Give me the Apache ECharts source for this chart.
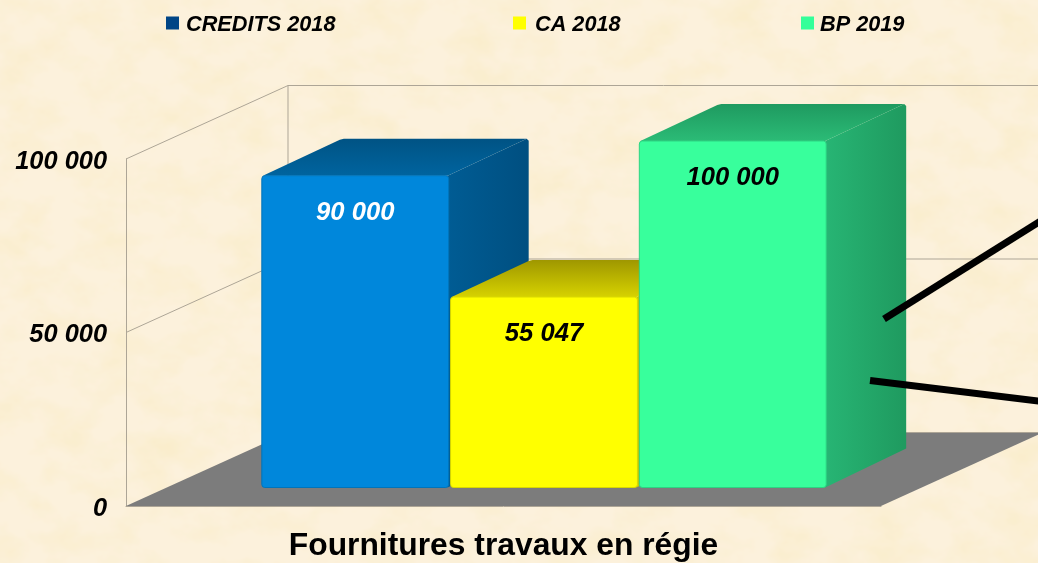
<!DOCTYPE html>
<html><head><meta charset="utf-8">
<style>
html,body{margin:0;padding:0;width:1038px;height:563px;overflow:hidden;background:#fcf1dc}
#tex{position:absolute;left:0;top:0;width:1038px;height:563px}
#chart{position:absolute;left:0;top:0;width:1038px;height:563px}
</style>
<script src="https://cdn.jsdelivr.net/npm/echarts@6/dist/echarts.min.js"></script>
</head><body>
<svg id="tex" xmlns="http://www.w3.org/2000/svg">
<filter id="p" x="0" y="0" width="100%" height="100%">
<feTurbulence type="fractalNoise" baseFrequency="0.022 0.03" numOctaves="4" seed="7"/>
<feColorMatrix type="matrix" values="0 0 0 0 0.95  0 0 0 0 0.84  0 0 0 0 0.58  1.6 0 0 0 -0.62"/>
</filter>
<rect width="1038" height="563" filter="url(#p)"/>
</svg>
<div id="chart"></div>
<script>
const categories = ['Fournitures travaux en régie'];
const seriesNames = ['CREDITS 2018', 'CA 2018', 'BP 2019'];
const credits2018 = [90000];
const ca2018 = [55047];
const bp2019 = [100000];
const valueTicks = [0, 50000, 100000];

const FONT = '"Liberation Sans", Arial, sans-serif';
const DEPTH_X = 81, DEPTH_Y = 37;
const WALL_X = 162, WALL_Y = 73.5;
const WALL = '#ada596';

const looks = [
  {legend:'#004586', front:'#0087db', edge:'#0074ba', label:'#ffffff',
   sideA:'#005c94', sideB:'#004f80', topA:'#005384', topB:'#00649f'},
  {legend:'#ffff00', front:'#ffff00', edge:'#d8d800', label:'#000000',
   sideA:'#c8c800', sideB:'#a8a000', topA:'#9f9700', topB:'#d6d200'},
  {legend:'#33ff99', front:'#38ff9c', edge:'#2cd482', label:'#000000',
   sideA:'#27b574', sideB:'#1f9a5f', topA:'#1f9a60', topB:'#2bbb76'}
];

function fmt(v){ return String(v).replace(/\B(?=(\d{3})+(?!\d))/g, ' '); }

function barRenderer(idx){
  return function(params, api){
    const v = api.value(1);
    const base = api.coord([api.value(0), 0]);
    const top = api.coord([api.value(0), v]);
    const band = api.size([1, 0])[0];
    const w = band * 0.2475;
    const cx = base[0] + DEPTH_X/2 + (idx-1) * band * 0.25;
    const x0 = cx - w/2, x1 = cx + w/2;
    const yb = base[1] - 18.5, yt = top[1] - 18;
    const L = looks[idx];
    const bx = x1 - 1 + DEPTH_X, by = yt - DEPTH_Y;
    return {type:'group', children:[
      {type:'polygon', shape:{points:[[x1-1,yt],[bx-2,by],[bx,by+2],[bx,yb-DEPTH_Y-2],[x1-1,yb]]},
       style:{fill:{type:'linear',x:0,y:0,x2:1,y2:0,colorStops:[{offset:0,color:L.sideA},{offset:1,color:L.sideB}]}}},
      {type:'polygon', shape:{points:[[x0+1,yt],[x0+1+DEPTH_X-4,by+1],[x0+1+DEPTH_X,by],[bx-2,by],[x1-1,yt]]},
       style:{fill:{type:'linear',x:0,y:0,x2:0,y2:1,colorStops:[{offset:0,color:L.topA},{offset:1,color:L.topB}]}}},
      {type:'rect', shape:{x:x0,y:yt,width:w,height:yb-yt,r:3},
       style:{fill:L.front,stroke:L.edge,lineWidth:1}},
      {type:'text', style:{x:cx,y:yt+37,text:fmt(v),align:'center',verticalAlign:'middle',
        fill:L.label,font:'italic bold 25.6px '+FONT}}
    ]};
  };
}

function wallRenderer(params, api){
  const v = api.value(1);
  const p = api.coord([0, v]);
  const band = api.size([1, 0])[0];
  const left = p[0] - band/2, right = p[0] + band/2;
  const line = (a,b,c,d)=>({type:'line',shape:{x1:a,y1:b,x2:c,y2:d},style:{stroke:WALL,lineWidth:1}});
  const kids = [];
  if (v === 0) {
    const topY = api.coord([0, valueTicks[valueTicks.length-1]])[1];
    kids.push({type:'polygon',shape:{points:[[left,p[1]],[right,p[1]],[right+WALL_X,p[1]-WALL_Y],[left+WALL_X,p[1]-WALL_Y]]},
      style:{fill:'#7c7c7c'}});
    kids.push(line(left+WALL_X,topY-WALL_Y,left+WALL_X,p[1]-WALL_Y));
  } else {
    kids.push(line(left,p[1],left+WALL_X,p[1]-WALL_Y));
  }
  kids.push(line(left+WALL_X,p[1]-WALL_Y,right+WALL_X,p[1]-WALL_Y));
  return {type:'group',children:kids};
}

const legendTextGap = [2, 4, 1];
const legends = [161, 508, 796].map((left,i)=>({
  left:left, top:9, orient:'horizontal', selectedMode:false, itemWidth:13, itemHeight:13,
  icon:'rect',
  data:[{name:seriesNames[i], itemStyle:{color:looks[i].legend}}],
  formatter:'{t|{name}}',
  textStyle:{rich:{t:{fontFamily:FONT,fontStyle:'italic',fontWeight:'bold',fontSize:21.7,color:'#000',padding:[4,0,0,legendTextGap[i]]}}}
}));

const seriesValues = [credits2018, ca2018, bp2019];

const chart = echarts.init(document.getElementById('chart'), null, {renderer:'canvas'});
chart.setOption({
  animation:false,
  backgroundColor:'transparent',
  legend:legends,
  grid:{left:126, top:159, width:755, bottom:57, containLabel:false},
  xAxis:{type:'category', data:categories,
    axisTick:{show:false},
    axisLine:{show:true,lineStyle:{color:WALL,width:1}},
    axisLabel:{margin:24,color:'#000',fontFamily:FONT,fontWeight:'bold',fontSize:31.8},
    z:1},
  yAxis:{type:'value', min:0, max:100000, interval:50000,
    axisTick:{show:false},
    axisLine:{show:true,lineStyle:{color:WALL,width:1}},
    splitLine:{show:false},
    axisLabel:{margin:19,
      formatter:function(v){ return '{t|'+fmt(v)+'}'; },
      rich:{t:{fontFamily:FONT,fontStyle:'italic',fontWeight:'bold',fontSize:25.4,color:'#000',padding:[5,0,0,0]}}}},
  series:[
    {type:'custom', name:'walls', silent:true, clip:false, z:1, renderItem:wallRenderer,
     encode:{x:0,y:1}, data:valueTicks.map(t=>[0,t])},
    ...seriesValues.map((vals,i)=>({
      type:'custom', name:seriesNames[i], clip:false, z:2+i, renderItem:barRenderer(i),
      encode:{x:0,y:1}, itemStyle:{color:looks[i].legend},
      data:vals.map((v,k)=>[k,v])
    }))
  ],
  graphic:[
    {type:'line',z:100,shape:{x1:884,y1:319,x2:1042,y2:220},style:{stroke:'#000',lineWidth:7}},
    {type:'line',z:100,shape:{x1:870,y1:380.5,x2:1042,y2:401.5},style:{stroke:'#000',lineWidth:7}}
  ]
});
</script>
</body></html>
